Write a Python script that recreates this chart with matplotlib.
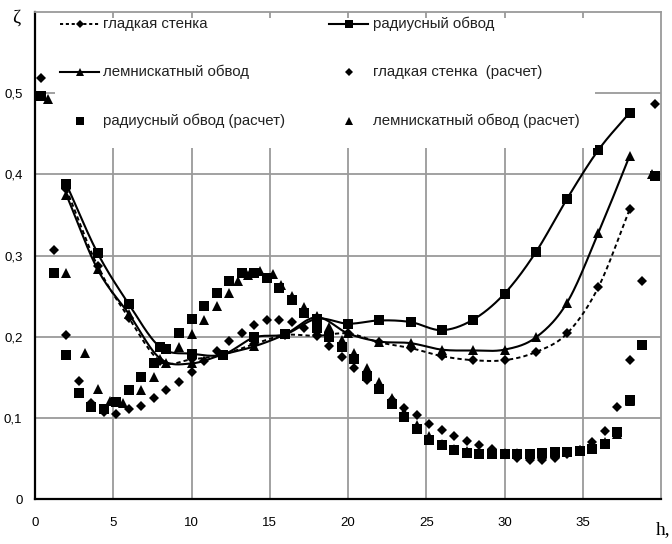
import numpy as np
import matplotlib
matplotlib.use("Agg")
import matplotlib.pyplot as plt
from matplotlib import font_manager
from matplotlib.lines import Line2D
from matplotlib.patches import Rectangle

# ---- measured curves (even h) ----
h_exp = [2, 4, 6, 8, 10, 12, 14, 16, 18, 20, 22, 24, 26, 28, 30, 32, 34, 36, 38]
smooth_exp = [0.382, 0.287, 0.223, 0.170, 0.172, 0.178, 0.191, 0.202, 0.201, 0.204,
              0.193, 0.186, 0.176, 0.171, 0.171, 0.181, 0.204, 0.261, 0.357]
radius_exp = [0.388, 0.303, 0.240, 0.187, 0.179, 0.178, 0.199, 0.203, 0.222, 0.216,
              0.220, 0.218, 0.208, 0.221, 0.253, 0.304, 0.370, 0.430, 0.476]
lemn_exp = [0.375, 0.283, 0.228, 0.173, 0.167, 0.178, 0.188, 0.203, 0.224, 0.204,
            0.194, 0.192, 0.184, 0.183, 0.184, 0.199, 0.242, 0.328, 0.423]

# ---- computed points ----
h_calc = [0.4, 1.2, 2.0, 2.8, 3.6, 4.4, 5.2, 6.0, 6.8, 7.6, 8.4, 9.2, 10.0, 10.8, 11.6,
          12.4, 13.2, 14.0, 14.8, 15.6, 16.4, 17.2, 18.0, 18.8, 19.6, 20.4, 21.2, 22.0,
          22.8, 23.6, 24.4, 25.2, 26.0, 26.8, 27.6, 28.4, 29.2, 30.0, 30.8, 31.6, 32.4,
          33.2, 34.0, 34.8, 35.6, 36.4, 37.2, 38.0, 38.8, 39.6]
smooth_calc = [0.519, 0.307, 0.202, 0.145, 0.118, 0.107, 0.105, 0.111, 0.115, 0.124,
               0.134, 0.144, 0.156, 0.170, 0.182, 0.195, 0.205, 0.214, 0.220, 0.220,
               0.218, 0.211, 0.202, 0.189, 0.175, 0.161, 0.147, 0.135, 0.122, 0.112,
               0.103, 0.093, 0.085, 0.078, 0.071, 0.066, 0.062, 0.055, 0.051, 0.048,
               0.048, 0.050, 0.055, 0.060, 0.070, 0.084, 0.113, 0.171, 0.268, 0.487]
radius_calc = [0.496, 0.278, 0.178, 0.131, 0.113, 0.111, 0.119, 0.134, 0.150, 0.167,
               0.185, 0.204, 0.222, 0.238, 0.254, 0.269, 0.278, 0.278, 0.272, 0.260,
               0.245, 0.229, 0.211, 0.199, 0.187, 0.173, 0.152, 0.136, 0.117, 0.101,
               0.086, 0.073, 0.066, 0.060, 0.057, 0.056, 0.056, 0.056, 0.056, 0.056,
               0.057, 0.058, 0.058, 0.059, 0.062, 0.068, 0.082, 0.122, 0.190, 0.398]
h_calc_lemn = [0.8, 2.0, 3.2, 4.0, 4.8, 5.6, 6.8, 7.6, 8.4, 9.2, 10.0, 10.8, 11.6, 12.4,
               13.0, 13.6, 14.4, 15.2, 15.7, 16.4, 17.2, 18.0, 18.8, 19.6, 20.4, 21.2,
               22.0, 22.8, 23.6, 24.4, 25.2, 26.0, 26.8, 27.6, 28.4, 29.2, 30.0, 30.8,
               31.6, 32.4, 33.2, 34.0, 34.8, 35.6, 36.4, 37.2, 38.0, 38.8, 39.4]
lemn_calc = [0.493, 0.278, 0.180, 0.136, 0.121, 0.118, 0.134, 0.150, 0.167, 0.187,
             0.203, 0.221, 0.238, 0.254, 0.269, 0.276, 0.281, 0.277, 0.264, 0.250,
             0.236, 0.226, 0.212, 0.196, 0.180, 0.162, 0.144, 0.125, 0.107, 0.091,
             0.078, 0.068, 0.062, 0.059, 0.057, 0.057, 0.057, 0.057, 0.056, 0.056,
             0.057, 0.058, 0.059, 0.062, 0.070, 0.080, 0.121, 0.190, 0.400]

x_ticks = [0, 5, 10, 15, 20, 25, 30, 35]
x_tick_labels = ["0", "5", "10", "15", "20", "25", "30", "35"]
y_ticks = [0, 0.1, 0.2, 0.3, 0.4, 0.5]
y_tick_labels = ["0", "0,1", "0,2", "0,3", "0,4", "0,5"]

legend_labels = ["гладкая стенка", "радиусный обвод", "лемнискатный обвод",
                 "гладкая стенка  (расчет)", "радиусный обвод (расчет)",
                 "лемнискатный обвод (расчет)"]

names = {f.name for f in font_manager.fontManager.ttflist}
text_font = "Liberation Sans Narrow" if "Liberation Sans Narrow" in names else "Liberation Sans"
plt.rcParams["font.family"] = ["Liberation Sans", "DejaVu Sans"]

W, H = 672, 544
fig = plt.figure(figsize=(W / 100, H / 100), dpi=100)
ax = fig.add_axes([35 / W, 1 - 499 / H, (661 - 35) / W, (499 - 12) / H])


def smooth_curve(x, y, n=24):
    """Cubic Bezier smoothing through the points (Catmull-Rom style)."""
    x = np.asarray(x, float)
    y = np.asarray(y, float)
    px = np.concatenate([[2 * x[0] - x[1]], x, [2 * x[-1] - x[-2]]])
    py = np.concatenate([[2 * y[0] - y[1]], y, [2 * y[-1] - y[-2]]])
    xs, ys = [], []
    t = np.linspace(0, 1, n, endpoint=False)
    for i in range(1, len(px) - 2):
        p0 = np.array([px[i - 1], py[i - 1]])
        p1 = np.array([px[i], py[i]])
        p2 = np.array([px[i + 1], py[i + 1]])
        p3 = np.array([px[i + 2], py[i + 2]])
        c1 = p1 + (p2 - p0) / 6
        c2 = p2 - (p3 - p1) / 6
        b = ((1 - t) ** 3)[:, None] * p1 + (3 * (1 - t) ** 2 * t)[:, None] * c1 \
            + (3 * (1 - t) * t ** 2)[:, None] * c2 + (t ** 3)[:, None] * p2
        xs.extend(b[:, 0])
        ys.extend(b[:, 1])
    xs.append(x[-1])
    ys.append(y[-1])
    return np.array(xs), np.array(ys)


grid_c = "#9a9a9a"
ax.set_xlim(0, 40)
ax.set_ylim(0, 0.6)
ax.set_xticks(x_ticks)
ax.set_xticklabels(x_tick_labels)
ax.set_yticks(y_ticks)
ax.set_yticklabels(y_tick_labels)
ax.tick_params(axis="x", length=0, pad=13, labelsize=9.5)
ax.tick_params(axis="y", length=0, pad=9, labelsize=9.5)
for xv in x_ticks[1:]:
    ax.axvline(xv, color=grid_c, lw=1.3, zorder=0)
for yv in y_ticks[1:]:
    ax.axhline(yv, color=grid_c, lw=1.3, zorder=0)
for side in ("top", "right"):
    ax.spines[side].set_color(grid_c)
    ax.spines[side].set_linewidth(1.3)
for side in ("left", "bottom"):
    ax.spines[side].set_color("black")
    ax.spines[side].set_linewidth(1.6)

ms_d, ms_s, ms_t = 5.6, 6.8, 7.4

# computed points
ax.plot(h_calc, smooth_calc, "D", color="black", ms=ms_d, mew=0, clip_on=False, zorder=3)
ax.plot(h_calc, radius_calc, "s", color="black", ms=ms_s, mew=0, clip_on=False, zorder=3)
ax.plot(h_calc_lemn, lemn_calc, "^", color="black", ms=ms_t, mew=0, clip_on=False, zorder=3)

# measured curves
sx, sy = smooth_curve(h_exp, smooth_exp)
ax.plot(sx, sy, color="black", lw=1.4, dashes=(2.2, 1.6), zorder=4)
ax.plot(h_exp, smooth_exp, "D", color="black", ms=ms_d, mew=0, zorder=5)
rx, ry = smooth_curve(h_exp, radius_exp)
ax.plot(rx, ry, color="black", lw=1.5, zorder=4)
ax.plot(h_exp, radius_exp, "s", color="black", ms=ms_s, mew=0, zorder=5)
lx, ly = smooth_curve(h_exp, lemn_exp)
ax.plot(lx, ly, color="black", lw=1.5, zorder=4)
ax.plot(h_exp, lemn_exp, "^", color="black", ms=ms_t, mew=0, zorder=5)

# axis symbols
fig.text(16 / W, 1 - 18 / H, "ζ", family=["Liberation Serif", "DejaVu Serif"],
         fontsize=14, ha="center", va="center")
fig.text(670 / W, 1 - 530 / H, "h,", family="Liberation Serif", fontsize=14,
         ha="right", va="center")


# legend block
def fx(p):
    return p / W


def fy(p):
    return 1 - p / H


fig.add_artist(Rectangle((fx(55), fy(148)), fx(595) - fx(55), (148 - 18) / H,
                         transform=fig.transFigure, facecolor="white",
                         edgecolor="none", zorder=1))

rows = [24, 72, 121]
entries = [
    # (col, row, marker, ms, linestyle, label)
    (0, 0, "D", 4.4, "dash", legend_labels[0]),
    (1, 0, "s", 5.6, "solid", legend_labels[1]),
    (0, 1, "^", 6.0, "solid", legend_labels[2]),
    (1, 1, "D", 4.4, None, legend_labels[3]),
    (0, 2, "s", 5.6, None, legend_labels[4]),
    (1, 2, "^", 6.0, None, legend_labels[5]),
]
col_line = [(60, 99), (329, 368)]
col_text = [103, 373]
for col, row, mk, ms, ls, lab in entries:
    x0, x1 = col_line[col]
    yy = fy(rows[row])
    if ls == "dash":
        fig.add_artist(Line2D([fx(x0), fx(x1)], [yy, yy], transform=fig.transFigure,
                              color="black", lw=1.4, dashes=(1.6, 1.4), zorder=2))
    elif ls == "solid":
        fig.add_artist(Line2D([fx(x0), fx(x1)], [yy, yy], transform=fig.transFigure,
                              color="black", lw=1.5, zorder=2))
    xm = (x0 + x1) / 2
    fig.add_artist(Line2D([fx(xm)], [yy], transform=fig.transFigure, marker=mk,
                          ms=ms, mew=0, color="black", linestyle="none", zorder=2))
    fig.text(fx(col_text[col]), yy, lab, family=text_font, fontsize=10.8,
             color="#222222", ha="left", va="center", zorder=3)

fig.savefig("out.png", dpi=100)
